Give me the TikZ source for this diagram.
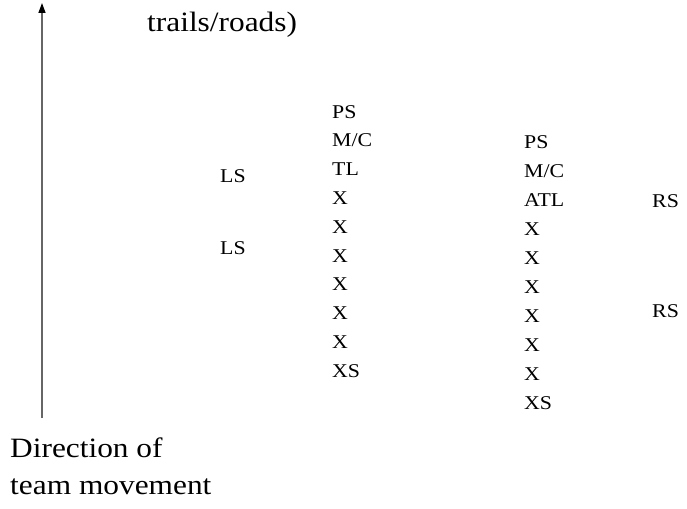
\documentclass[tikz,border=0pt]{standalone}
\usepackage{fontspec}
\setmainfont{Liberation Serif}
\usepackage{tikz}
\usetikzlibrary{arrows.meta, positioning}

% slightly widened text, as in the scan
\newcommand{\widetxt}[1]{\scalebox{1.12}[1]{#1}}

\tikzset{
  small/.style={anchor=base west, inner sep=0pt, font=\fontsize{19.5}{23}\selectfont},
  big/.style={anchor=base west, inner sep=0pt, font=\fontsize{28}{34}\selectfont}
}

\begin{document}
\begin{tikzpicture}[x=1pt, y=-1pt]
  \useasboundingbox (0,0) rectangle (687,508);

  % Direction arrow
  \coordinate (base) at (42,418);
  \coordinate (tip) at (42,3);
  \draw[black!60, line width=1.3pt, -{Triangle[black, length=10pt, width=7pt]}] (base) -- (tip);

  % Caption text
  \node[big] (trails) at (147,32) {\widetxt{trails/roads)}};
  \node[big] (dir) at (10,457) {\widetxt{Direction of}};
  \node[big] (team) at (10,494) {\widetxt{team movement}};

  % Left column
  \foreach \t [count=\i from 0] in {PS, M/C, TL, X, X, X, X, X, X, XS}
    \node[small] (lc\i) at (332,118+\i*28.8) {\widetxt{\t}};
  \node[small] (ls1) at (220,182) {\widetxt{LS}};
  \node[small] (ls2) at (220,254) {\widetxt{LS}};

  % Right column
  \foreach \t [count=\i from 0] in {PS, M/C, ATL, X, X, X, X, X, X, XS}
    \node[small] (rc\i) at (524,148+\i*29.1) {\widetxt{\t}};
  \node[small] (rs1) at (652,207) {\widetxt{RS}};
  \node[small] (rs2) at (652,317) {\widetxt{RS}};
\end{tikzpicture}
\end{document}
